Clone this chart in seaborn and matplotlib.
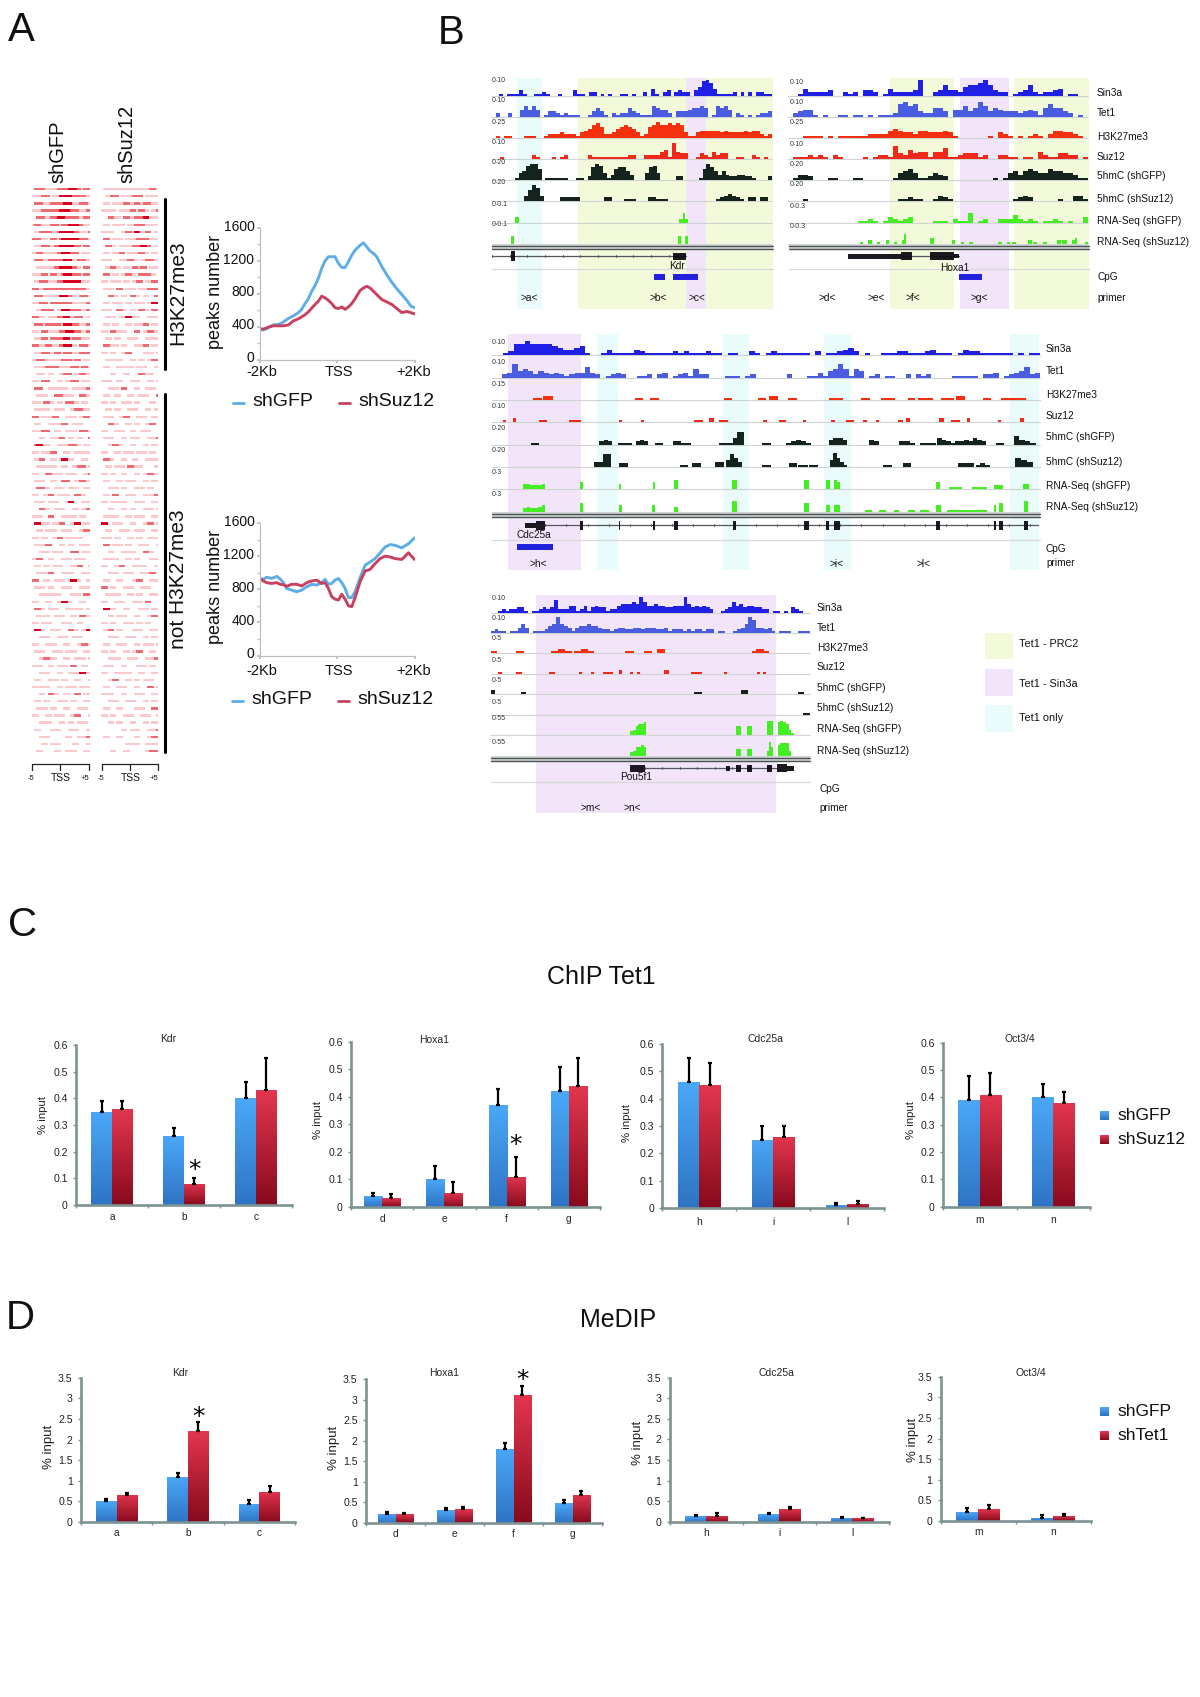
import numpy as np
import pandas as pd
import matplotlib
matplotlib.use("Agg")
import matplotlib.pyplot as plt
from matplotlib.colors import LinearSegmentedColormap
from matplotlib.patches import Rectangle
from matplotlib.ticker import MultipleLocator
from matplotlib.transforms import ScaledTranslation
import seaborn as sns

sns.set_theme(style="white")
plt.rcParams["font.family"] = ["Liberation Sans", "DejaVu Sans"]

W, H = 1200, 1697

# ---------------------------------------------------------------- panel A data
# Heat map rows: a coarse by-eye reading of the dash texture (. none, 1 pale, 2 mid, 3 dark)
HEAT_GFP = """
.222..11.1.222..3322.1122.
11..22...1113333..2.22..11
.22.11..22..2233.11..22.1.
111.2..22.12333.222..1..22
..22..1.222332222.2.11.2..
12.111..22.1.2223.3.2..11.
.1.2.22..11233.3322.1.11.2
22..1...2.1.2332.33..22..1
.11.22.1..2233233.22.1.22.
1.2..11.1112.33.222...1.1.
.22.1..2.2..2233..1.22..11
..1.1.111.22333322.1...2..
11..2...2.1.1233..22.1.22.
.1.22.1..1.22.3333.3..1..1
2.1..22..2.12.2.2.22.2.11.
.22..1.1.1.13322.1...22..1
11.22...2.22..22.1.11.1.2.
..1.2.22...1133.22.2..1.22
2.11...1.1.2223..1.22...1.
.22.1.2..22.1.33.22..11.2.
1...2.11.1..22.33..2.1..22
.11.2...22.2.13.1.22.1.1..
2.1.1.2.1..12.33.1...22.1.
.1..22..1.2.1.22..11.2..2.
1.22..1..1.1.2.2.1.2...11.
.1..1.2..2.1..11.22.1.2..1
..11...1....1.22...1.2..1.
1...22.....1...1.22...1.1.
.22....1.1..11....1..1..22
..1.1.....22..1.1....2.1..
11...2.1...1...22.1...1...
.1..11....1.1....1.22..1.1
2...1.1..2.....1.1...1.22.
.1.....11..1.2....1.1.....
1.1.22....1....1.1...22.1.
...1....1.1.2...1...1....2
.23..1.....1.1..22.1...1..
1...1.1.2.....1....1.1.1.1
.1.2....1...13..1.....1...
..1..1.11....1....1.22...1
1.....2..1.1...1.1.....1.2
.1.1....1....22....1.2.1..
..22.1....1.1...1.1....1.1
1....1.2...1..1....2.1....
.1.1...1.1.....13.....1.1.
...2.1....1.1.....1...1.2.
1.1....2.....1.1.1...1....
.3.1.1...1..2....1.3...1.1
..1...1.1....1.1.....1.2..
1...1....1.2...1..1.1.....
.1.1..2.....1...1....1..1.
...1.1...1.1.....22...1.1.
1.2....1.....1.1...1.1....
.1...1...1.1.....1..2....1
..1.1..2.....1..1.....1.1.
2....1....1.1...13.1....1.
.1.1...1.....1.1.....1.1..
...1.1.1..1......1.1...2.1
1.....1....1.3.1.....1....
.2.1...1.1.....1..1.1...1.
..1..1....1.1....1...2.1..
1...1.1......1.1....1.....
.3.1....1.1.....2.1...1.3.
...1.1.....1.1....1.1.....
1.....1.1.....1.....1.2.1.
.1.1.....1.1...1.1.....1..
...1.2..1.....1....1.1...1
1.1....1...1.1...2....1...
...1.1.....1....1..1.3.1..
.1.....1.1...1.....1.....1
1..1.1.....1...1.1...1.1..
...1...2.1....1....2...1.1
.1...1.....1.1...1.....1..
..1.1...1.....1.....1.1...
1.....1...1.1....1.2.....1
...1..1.....1...1...1.1...
.1......1.1.....1.1.....1.
...1.1.........1....1.1.2.
....1...1.1.......1.....1.
..1.......1....1.1.....1..
"""
HEAT_SUZ = """
.1.1.1..1.1..11..11.1.2.1.
..1.22...1..1.2.2...11..1.
.1...1.1..2.1..2.1.22..1..
1.1.1...11.1.2...2.1...1.2
...2..1...2..1.22.23..1..1
.1...11.1...1..2.2..11.1..
1..1.....1.2.1.3.1..2...1.
.2...1.1...1..1.2.22.1.1..
..2.1...1.1.1.22.23.2...1.
.1...1..2...1..1.2.1...1.1
1.1.....1.1.2.1...1.22..1.
..1.2.1...1...2.1.2...1.1.
.2...1...1.2.1...22.2.1...
1...1.1...1...1.2...1..2.1
.1.1...2...1.1...1.1.2..2.
...2.1...1...2.1...1....2.
.1...1.1...1...1.1...1.3.1
1.1....2.1...1...2.1...22.
..1.1...1..3.1.1.....1.1..
.1...1.....1...1.1.2...1.1
1...2..1.1.....2...1.2.1..
..1...1.....1.1.....1..1.1
.2.1.1...1.....1.1.2...1..
1...1....1.2.......1.1...1
..1..1.1.....1...1...1.2..
.1.....1..1.1...1.1.....1.
....1.....1......2.1.1....
1.1....1.....1.1.....1...1
...1.1...2.....1....1.1...
.1....1.....1....1.1.....2
1...1....1.1...1......1...
..1...1.....1.1.....1...1.
.1.1....1.2.....1.1....1.1
...2.1.....1...1....1.2...
1.....1.1....1....1.1.....
.1.1.....1...1.1.....1.1.2
...1.2.1.....1.....1...1..
1.....1...1.1...1.1...1...
.2.1.....1....1.....1.1..1
..1...1.1...2.1.1.......1.
1...1....1.....1...1.2.1..
.1.....1...1.1.....1...1.1
...1.1...1.....1.1...1....
.1...2.....1.1.....1.1..2.
1...1..1.1.....1.1.....1..
...1.....1...1.....1.1...1
.1.1.1.....1...1.1.....1..
3....1.1.....1.....1.2...1
..1.....1.1....1.1.....1..
1.1...1.....1...1....1.1..
.2...1.1...1.....1.1.....1
...1.....1.1.1.....2.1....
.1.1.1.....1...1......1.1.
1.....1.2.....1.1.1.....1.
...1.1....1.1.....1.1.2...
.1.....1......1.2.....1..1
2...1.....1.1.....1.1.....
..1.1.1.....1...1.....1.1.
1.....1.1.....1.1...2.....
.3..1.....1......1.1...1.1
...1...1.1.....1.....1.2..
1...1.....1.1...1...1.....
.1.2...1......1.1.....1.1.
...1.1.....1.1.....1...1..
.1.....1.1.....1...1.1...1
1...1.....1...1.2.....1...
...1..1.....1.1.....1.1.2.
.1.1.....1......1.1...1...
1.....1..1.1.....1.....1.1
...1.2.....1...1...1.1....
.1.....1.1.....1.....2...1
1..1.....1.....1.1.....1..
...1.1.....1.1.....1...1.1
.1.....1.......1.1.....2..
1...1.....1.1.....1.1....1
...1...1.....1.....1...1..
.........1...1.1.....1.1.2
.1.....1.......1.....1.2..
...........1.1.1....11.1.1
....1.....1.........1.22.1
"""
PROFILE_X_TOP = [780, 790, 800, 810, 820, 835, 850, 865, 880, 895, 905, 915, 925, 935, 945, 955, 965, 975, 985, 995,
                 1005, 1015, 1025, 1035, 1045, 1055, 1065, 1080, 1090, 1100, 1110, 1120, 1130, 1145, 1160, 1175, 1190, 1205, 1220, 1232, 1243]
PROFILE_TOP_GFP = [365, 360, 375, 400, 420, 425, 455, 500, 530, 570, 610, 680, 740, 830, 900, 990, 1110, 1200, 1250, 1250,
                   1250, 1170, 1120, 1120, 1190, 1270, 1330, 1390, 1420, 1370, 1320, 1290, 1250, 1130, 1030, 940, 860, 790, 720, 650, 630]
PROFILE_TOP_SUZ = [375, 370, 385, 400, 410, 410, 410, 420, 470, 495, 520, 545, 580, 625, 670, 710, 770, 750, 720, 680,
                   630, 620, 640, 610, 640, 680, 740, 840, 870, 890, 870, 830, 790, 730, 700, 670, 620, 570, 585, 570, 555]
PROFILE_X_BOT = [780, 790, 800, 815, 830, 840, 850, 860, 875, 890, 905, 920, 935, 950, 965, 975, 985, 995, 1005, 1015, 1025, 1035, 1045, 1055,
                 1065, 1080, 1095, 1110, 1125, 1140, 1155, 1170, 1185, 1205, 1225, 1243]
PROFILE_BOT_GFP = [925, 920, 945, 930, 955, 925, 880, 810, 790, 770, 790, 830, 860, 850, 880, 920, 860, 870, 910, 930, 880, 810, 700, 700,
                   770, 940, 1090, 1130, 1170, 1240, 1310, 1340, 1330, 1300, 1350, 1420]
PROFILE_BOT_SUZ = [930, 900, 880, 870, 880, 860, 855, 835, 860, 860, 840, 880, 900, 910, 870, 880, 810, 710, 680, 670, 740, 680, 600, 590,
                   700, 890, 1020, 1040, 1110, 1170, 1200, 1190, 1170, 1160, 1240, 1160]

# ---------------------------------------------------------------- panel B data
# Each track: (start, end, heights) in panel units, heights are digits 0-9
TRACK_NAMES = ["Sin3a", "Tet1", "H3K27me3", "Suz12", "5hmC (shGFP)", "5hmC (shSuz12)", "RNA-Seq (shGFP)", "RNA-Seq (shSuz12)"]
KDR_RANGES = ["0-10", "0-10", "0-25", "0-10", "0-20", "0-20", "0-0.1", "0-0.1"]
KDR_TRACKS = [
    [(5, 845, "001011131001121001000311022010100110100204102302322035897411112020202211")],
    [(5, 845, "0200200464640133212111001353102122532111654420333455650165640210101223")],
    [(5, 845, "0101100011100122232221345786223567653126797787873113444443433334344212")],
    [(5, 845, "0010000000210001012000002111111111220022224519433001321423300110021010")],
    [(5, 845, "0000001458996011111100110279841367753000478400002200001697535322332210002")],
    [(5, 845, "0000000036973000022222000000220001110002211100000000000012343210220220")],
    [(76, 86, "3"), (566, 578, "2"), (578, 584, "5"), (584, 595, "2")],
    [(62, 71, "4"), (564, 573, "4"), (584, 593, "4")],
]
HOXA_RANGES = ["0-10", "0-10", "0-25", "0-10", "0-20", "0-20", "0-0.3", "0-0.3"]
HOXA_TRACKS = [
    [(10, 910, "001422223002120332014222239002363325667963220123621223401100")],
    [(10, 910, "023441010011011010111278673225530446358635433323431575532010")],
    [(10, 910, "000111101011111122224543324433343100000010321010121024433210")],
    [(10, 910, "011121210210000101221732534414461123331200221101104211332201")],
    [(10, 910, "013320001100011000000145641124320000000001014535654465544311")],
    [(10, 910, "000100000000000000000011211001321000000000000123200000100331")],
    [(10, 910, "000000000000001121013212300001110211501200222421210112101003")],
    [(225, 235, "1"), (250, 260, "2"), (275, 285, "1"), (302, 312, "2"), (327, 335, "1"), (352, 364, "25"), (436, 448, "3"),
     (500, 510, "2"), (528, 538, "1"), (553, 565, "1"), (640, 650, "1"), (665, 675, "1"), (682, 692, "1"), (728, 742, "2"),
     (745, 755, "1"), (775, 785, "1"), (815, 827, "2"), (830, 845, "2"), (862, 875, "23"), (900, 910, "1")],
]
CDC_RANGES = ["0-10", "0-10", "0-15", "0-10", "0-20", "0-20", "0-3", "0-3"]
CDC_TRACKS = [
    [(5, 1540, "0012668666654334510013111132111112121112110110021012111111020112342010011122111231110132211111101011")],
    [(5, 1540, "0023845424323212336320123200112023012315220001110120000002000113145851540120110020212000011111022301234623")],
    [(120, 145, "1"), (148, 175, "2"), (405, 428, "1"), (448, 472, "1"), (655, 678, "1"), (750, 772, "1"), (780, 805, "2"), (835, 860, "1"),
     (950, 988, "1"), (1040, 1065, "1"), (1095, 1135, "1"), (1170, 1190, "1"), (1198, 1240, "1"), (1262, 1300, "1"), (1305, 1330, "2"), (1380, 1402, "1"),
     (1430, 1502, "1")],
    [(36, 46, "1"), (64, 74, "2"), (136, 160, "1"), (220, 255, "1"), (362, 370, "1"), (422, 430, "1"), (570, 595, "1"), (614, 626, "2"), (640, 665, "1"),
     (765, 775, "1"), (808, 830, "1"), (875, 885, "1"), (955, 965, "1"), (998, 1020, "1"), (1045, 1055, "1"), (1082, 1090, "1"), (1142, 1155, "1"), (1165, 1175, "2"),
     (1258, 1272, "2"), (1292, 1315, "1"), (1335, 1345, "2"), (1422, 1430, "1"), (1484, 1496, "2")],
    [(115, 136, "1"), (306, 342, "232"), (358, 398, "1"), (408, 442, "232"), (462, 484, "1"), (512, 535, "2"), (535, 562, "1"), (640, 680, "1"), (680, 712, "477"),
     (762, 786, "1"), (830, 898, "12321"), (948, 1000, "3443"), (1060, 1088, "32"), (1145, 1190, "221"), (1205, 1250, "11"), (1252, 1390, "43212232432"),
     (1417, 1440, "1"), (1467, 1528, "5321")],
    [(291, 315, "3"), (315, 340, "7"), (360, 385, "2"), (532, 555, "1"), (566, 590, "2"), (630, 655, "3"), (660, 705, "4753"), (762, 786, "1"), (838, 860, "2"), (862, 890, "1"),
     (893, 918, "1"), (952, 1000, "48531"), (1100, 1125, "1"), (1155, 1178, "2"), (1310, 1355, "222"), (1360, 1400, "121"), (1470, 1520, "543")],
    [(92, 155, "332223"), (252, 260, "4"), (361, 367, "3"), (455, 463, "4"), (516, 526, "5"), (678, 691, "5"), (879, 893, "5"), (940, 952, "5"), (962, 980, "54"), (1250, 1261, "4"),
     (1285, 1322, "1"), (1350, 1392, "1"), (1410, 1436, "22"), (1492, 1508, "3")],
    [(92, 155, "232234"), (252, 261, "5"), (361, 370, "4"), (454, 463, "4"), (516, 526, "3"), (678, 691, "6"), (879, 892, "5"), (940, 952, "4"), (962, 980, "44"), (1250, 1262, "4"),
     (1050, 1070, "1"), (1090, 1110, "1"), (1130, 1145, "1"), (1170, 1190, "1"), (1205, 1230, "1"), (1280, 1392, "1"), (1410, 1416, "4"), (1426, 1437, "5"), (1494, 1507, "6")],
]
POU_RANGES = ["0-10", "0-10", "0-5", "0-5", "0-5", "0-5", "0-55", "0-55"]
POU_TRACKS = [
    [(50, 820, "00121223310112323722244124134331224555659644544334449534343200123645344332201101032100")],
    [(50, 820, "12110113530111245954313445443221233223323332231222121221220110012359733231011100111")],
    [(50, 65, "1"), (110, 130, "1"), (195, 245, "121"), (252, 300, "121"), (375, 395, "1"), (420, 440, "1"), (450, 470, "2"), (680, 720, "1221")],
    [(68, 76, "1"), (112, 125, "1"), (190, 205, "1"), (262, 270, "1"), (293, 300, "1"), (320, 345, "1"), (360, 367, "2"), (385, 392, "1"), (402, 410, "1"),
     (468, 480, "2"), (532, 560, "1"), (612, 620, "1"), (692, 700, "1"), (706, 714, "1")],
    [(50, 60, "2"), (124, 134, "1"), (540, 560, "1"), (654, 670, "2"), (790, 806, "1")],
    [(804, 820, "1")],
    [(387, 425, "235667"), (642, 654, "5"), (667, 680, "5"), (716, 730, "8"), (742, 775, "78763"), (775, 782, "1")],
    [(387, 425, "235565"), (642, 654, "4"), (667, 680, "4"), (716, 730, "385"), (742, 775, "67773")],
]
BANDS_KDR = [(100, 155, "cyan"), (232, 465, "yellow"), (465, 507, "purple"), (507, 650, "yellow")]
BANDS_HOXA = [(903, 1040, "yellow"), (1052, 1157, "purple"), (1168, 1330, "yellow")]
BANDS_CDC = [(50, 255, "purple"), (300, 358, "cyan"), (652, 725, "cyan"), (935, 1012, "cyan"), (1457, 1537, "cyan")]
BANDS_POU = [(160, 738, "purple")]
CPG_KDR = [(395, 418), (437, 490)]
CPG_HOXA = [(1050, 1100)]
CPG_CDC = [(76, 175)]
PRIMERS_KDR = [(127, ">a<"), (405, ">b<"), (487, ">c<")]
PRIMERS_HOXA = [(768, ">d<"), (872, ">e<"), (952, ">f<"), (1094, ">g<")]
PRIMERS_CDC = [(135, ">h<"), (970, ">i<"), (1215, ">l<")]
PRIMERS_POU = [(292, ">m<"), (392, ">n<")]
GENE_KDR = dict(line=(47, 465), tick_step=38, exons=[(88, 97, 5), (437, 465, 3.5)])
GENE_HOXA = dict(line=(925, 1050), tick_step=0, exons=[(812, 925, 2.5), (925, 950, 4), (988, 1040, 4), (1040, 1050, 2)])
GENE_CDC = dict(line=(155, 1535), tick_step=59, exons=[(97, 130, 2.5), (130, 155, 4.5), (252, 259, 4.5), (361, 365, 4.5), (457, 461, 4.5), (516, 526, 4.5), (679, 689, 4.5),
                                                       (878, 892, 4.5), (941, 948, 4.5), (963, 980, 4.5), (1250, 1261, 4.5), (1412, 1418, 4.5), (1426, 1436, 4.5), (1494, 1505, 4.5)])
GENE_POU = dict(line=(422, 740), tick_step=42, exons=[(385, 422, 3.5), (617, 627, 2.5), (642, 653, 3.5), (667, 680, 3.5), (716, 729, 3.5), (740, 765, 4), (765, 782, 2.5)])

# ---------------------------------------------------------------- panels C, D data
CHIP_KDR = dict(primers=["a", "b", "c"], gfp=[.35, .26, .40], red=[.36, .08, .43], gfp_top=[.39, .29, .46], red_top=[.39, .10, .55])
CHIP_HOXA = dict(primers=["d", "e", "f", "g"], gfp=[.04, .10, .37, .42], red=[.03, .05, .11, .44], gfp_top=[.05, .15, .43, .51], red_top=[.045, .09, .18, .54])
CHIP_CDC = dict(primers=["h", "i", "l"], gfp=[.46, .25, .01], red=[.45, .26, .015], gfp_top=[.55, .30, .02], red_top=[.53, .30, .025])
CHIP_OCT = dict(primers=["m", "n"], gfp=[.39, .40], red=[.41, .38], gfp_top=[.48, .45], red_top=[.49, .42])
MEDIP_KDR = dict(primers=["a", "b", "c"], gfp=[.50, 1.10, .44], red=[.66, 2.20, .73], gfp_top=[.56, 1.20, .53], red_top=[.70, 2.43, .87])
MEDIP_HOXA = dict(primers=["d", "e", "f", "g"], gfp=[.23, .31, 1.80, .48], red=[.21, .33, 3.10, .69], gfp_top=[.26, .37, 1.95, .55], red_top=[.25, .39, 3.33, .78])
MEDIP_CDC = dict(primers=["h", "i", "l"], gfp=[.13, .18, .10], red=[.15, .32, .08], gfp_top=[.17, .21, .11], red_top=[.20, .36, .10])
MEDIP_OCT = dict(primers=["m", "n"], gfp=[.21, .08], red=[.28, .11], gfp_top=[.31, .14], red_top=[.38, .17])

BAND_COL = dict(cyan="#e9fbfb", yellow="#f3fada", purple="#f2e5fa")
TRACK_COL = ["#1f1fe6", "#4a5ce0", "#f5300f", "#ef2a1a", "#14231c", "#14231c", "#44ee22", "#44ee22"]

# ---------------------------------------------------------------- helpers
fig = plt.figure(figsize=(W / 100, H / 100), dpi=100, facecolor="white")


def ax_px(x0, y0, x1, y1):
    ax = fig.add_axes([x0 / W, 1 - y1 / H, (x1 - x0) / W, (y1 - y0) / H])
    ax.patch.set_alpha(0)
    return ax


bg = ax_px(0, 0, W, H)
bg.set_xlim(0, W)
bg.set_ylim(H, 0)
bg.axis("off")


def label(x, y, s, size, **kw):
    kw.setdefault("ha", "left")
    kw.setdefault("va", "center")
    kw.setdefault("color", "#111111")
    return bg.text(x, y, s, fontsize=size, **kw)


for x, y, s in [(8, 30, "A"), (438, 33, "B"), (8, 925, "C"), (6, 1318, "D")]:
    label(x, y, s, 29)
label(601, 977, "ChIP Tet1", 18, ha="center")
label(618, 1320, "MeDIP", 18, ha="center")


# ---------------------------------------------------------------- panel A
heat_cmap = LinearSegmentedColormap.from_list("heat", ["#ffffff", "#fbc9cc", "#ee6a70", "#d8001f"])


def heat_panel(text, x0, x1):
    rows = [[0 if c == "." else int(c) for c in r] for r in text.split()]
    width = max(len(r) for r in rows)
    rows = np.array([r + [0] * (width - len(r)) for r in rows])
    # each typed mark is a horizontal dash a few cells long
    long_rows = np.zeros_like(rows)
    for shift in range(3):
        long_rows[:, shift:] = np.maximum(long_rows[:, shift:], rows[:, :width - shift])
    thick = np.zeros((3 * len(long_rows), width), dtype=int)
    thick[::3] = long_rows
    ax = ax_px(x0, 188, x1, 757)
    sns.heatmap(thick, ax=ax, cmap=heat_cmap, vmin=0, vmax=3, cbar=False, xticklabels=False, yticklabels=False)


heat_panel(HEAT_GFP, 32, 90)
heat_panel(HEAT_SUZ, 101, 158)
label(58, 183, "shGFP", 14.5, rotation=90, ha="center", va="bottom")
label(127, 183, "shSuz12", 14.5, rotation=90, ha="center", va="bottom")
label(178, 293, "H3K27me3", 15, rotation=90, ha="center")
label(178, 579, "not H3K27me3", 15, rotation=90, ha="center")
bg.plot([165, 165], [199, 369], color="black", lw=2.2)
bg.plot([165, 165], [394, 752], color="black", lw=2.2)
for x0, xm, x1 in [(32, 60.3, 88.7), (101.7, 130, 158.3)]:
    bg.plot([x0, x0, x1, x1], [770, 764, 764, 770], color="#222222", lw=0.9)
    bg.plot([xm, xm], [764, 770], color="#222222", lw=0.9)
    label(x0 - 0.5, 778, "-5", 5.5, ha="center")
    label(xm + 1, 778, "TSS", 7.5, ha="center")
    label(x1 - 4, 778, "+5", 5.5, ha="center")


def profile(x_vals, gfp, suz, y0, y1, xlab_y, leg_y, leg_x):
    ax = ax_px(260, y1, 414.5, y0)
    df = pd.DataFrame({"pos": list(x_vals) * 2, "peaks": list(gfp) + list(suz),
                       "condition": ["shGFP"] * len(gfp) + ["shSuz12"] * len(suz)})
    sns.lineplot(data=df, x="pos", y="peaks", hue="condition", palette={"shGFP": "#5dade6", "shSuz12": "#c8415f"},
                 lw=2.1, legend=False, errorbar=None, ax=ax)
    ax.set_xlim(780, 1243)
    ax.set_ylim(0, 1600)
    sns.despine(ax=ax)
    for s in ("left", "bottom"):
        ax.spines[s].set_color("#b9c1c6")
        ax.spines[s].set_linewidth(0.9)
    ax.set_yticks([0, 400, 800, 1200, 1600])
    ax.yaxis.set_minor_locator(MultipleLocator(200))
    ax.tick_params(axis="y", which="both", left=True, length=2, color="#b9c1c6", labelsize=10, pad=2, labelcolor="#111111")
    for lbl in ax.get_yticklabels():
        lbl.set_transform(lbl.get_transform() + ScaledTranslation(0, 2 / 72, fig.dpi_scale_trans))
    ax.set_xticks([780, 1011, 1243])
    ax.set_xticklabels([])
    ax.tick_params(axis="x", bottom=True, length=2, color="#b9c1c6")
    ax.set_xlabel("")
    ax.set_ylabel("")
    for x, s in [(262, "-2Kb"), (339, "TSS"), (414, "+2Kb")]:
        label(x, xlab_y, s, 10.5, ha="center")
    label(216, (y0 + y1) / 2 - 2, "peaks number", 13, rotation=90, ha="center")
    bg.plot([leg_x[0], leg_x[0] + 11], [leg_y, leg_y], color="#5dade6", lw=2)
    label(leg_x[0] + 19, leg_y - 1, "shGFP", 14)
    bg.plot([leg_x[1], leg_x[1] + 11], [leg_y, leg_y], color="#c8415f", lw=2)
    label(leg_x[1] + 19, leg_y - 1, "shSuz12", 14)


profile(PROFILE_X_TOP, PROFILE_TOP_GFP, PROFILE_TOP_SUZ, 359.5, 228, 372, 403, (233, 339))
profile(PROFILE_X_BOT, PROFILE_BOT_GFP, PROFILE_BOT_SUZ, 655.5, 523, 671, 701, (232, 338))


# ---------------------------------------------------------------- panel B
def draw_tracks(fx, zx0, zx1, tracks, bases, ranges, range_y, range_x):
    for k, (segs, base) in enumerate(zip(tracks, bases)):
        bg.plot([fx(zx0), fx(zx1)], [base, base], color="#cfd3d3", lw=0.8, zorder=1)
        ax = ax_px(fx(zx0), base - 18, fx(zx1), base)
        ax.set_xlim(zx0, zx1)
        ax.set_ylim(0, 10)
        ax.axis("off")
        for a, b, hs in segs:
            edges = np.linspace(a, b, len(hs) + 1)
            ax.stairs([int(h) for h in hs], edges, fill=True, color=TRACK_COL[k], lw=0)
        label(range_x, range_y[k], ranges[k], 5, color="#333333")


def draw_frame(fx, zx0, zx1, y_top, y_bot, bands, dbl, gene, gene_y, gene_name, gray_y, cpg, cpg_y, primers, primer_y):
    for a, b, c in bands:
        bg.add_patch(Rectangle((fx(a), y_top), fx(b) - fx(a), y_bot - y_top, color=BAND_COL[c], lw=0, zorder=0))
    bg.add_patch(Rectangle((fx(zx0), dbl), fx(zx1) - fx(zx0), 5, color="#d4d6d6", lw=0, zorder=1))
    bg.plot([fx(zx0), fx(zx1)], [dbl + 0.8, dbl + 0.8], color="#4a5252", lw=1, zorder=2)
    bg.plot([fx(zx0), fx(zx1)], [dbl + 4, dbl + 4], color="#4a5252", lw=1, zorder=2)
    bg.plot([fx(zx0), fx(zx1)], [gray_y, gray_y], color="#d8dada", lw=0.9, zorder=1)
    lx0, lx1 = gene["line"]
    bg.plot([fx(lx0), fx(lx1)], [gene_y, gene_y], color="#55555f", lw=0.9, zorder=2)
    if gene["tick_step"]:
        for t in np.arange(lx0, lx1, gene["tick_step"]):
            bg.plot([fx(t), fx(t)], [gene_y - 1.3, gene_y + 1.3], color="#55555f", lw=0.7, zorder=2)
    for a, b, h in gene["exons"]:
        bg.add_patch(Rectangle((fx(a), gene_y - h), fx(b) - fx(a), 2 * h, color="#100c14", lw=0, zorder=3, alpha=0.95))
    label(gene_name[0], gene_name[1], gene_name[2], 7.3, ha="center", zorder=5)
    for a, b in cpg:
        bg.add_patch(Rectangle((fx(a), cpg_y - 3.3), fx(b) - fx(a), 6.6, color="#2222dd", lw=0, zorder=3))
    for x, s in primers:
        label(fx(x), primer_y, s, 7.3, ha="center", zorder=5)


fx_top = lambda x: 470 + x / 2.148
fx_kdr = lambda x: 490 + x / 3
fx_hox = lambda x: 785 + x / 3
fx_cdc = lambda x: 490 + x / 2.8
fx_pou = lambda x: 470 + x / 2.412
top_base = [95.7, 116.7, 137.7, 158.7, 180, 201, 222.5, 243.5]

draw_frame(fx_top, 47, 650, 78, 309, BANDS_KDR, 245, GENE_KDR, 256, (677, 266, "Kdr"), 269, CPG_KDR, 277, PRIMERS_KDR, 298)
draw_frame(fx_top, 685, 1330, 78, 309, BANDS_HOXA, 245, GENE_HOXA, 256, (955, 268, "Hoxa1"), 269, CPG_HOXA, 277, PRIMERS_HOXA, 298)
draw_tracks(fx_kdr, 5, 845, KDR_TRACKS, top_base, KDR_RANGES, [81, 100, 122, 143, 163, 183, 204, 225], 492)
draw_tracks(fx_hox, 10, 910, HOXA_TRACKS, top_base, HOXA_RANGES, [83, 103, 123, 145, 165, 185, 206, 227], 790)
for name, y in zip(TRACK_NAMES + ["CpG", "primer"], [93, 113, 137, 157, 176, 199, 221, 242, 277, 298]):
    label(1097, y, name, 7.3)

draw_frame(fx_cdc, 5, 1540, 334, 570, BANDS_CDC, 513, GENE_CDC, 525, (534, 535.5, "Cdc25a"), 540, CPG_CDC, 547, PRIMERS_CDC, 564)
draw_tracks(fx_cdc, 5, 1540, CDC_TRACKS, [355, 378, 400, 422, 445, 467, 489, 512], CDC_RANGES, [343, 363, 385, 407, 429, 451, 473, 494], 492)
for name, y in zip(TRACK_NAMES + ["CpG", "primer"], [349.5, 371, 395, 416, 437, 462, 486, 507, 548.6, 563]):
    label(1046, y, name, 7.3)

draw_frame(fx_pou, 50, 820, 595, 813, BANDS_POU, 757, GENE_POU, 768, (636, 777, "Pou5f1"), 782, [], 789, PRIMERS_POU, 808)
draw_tracks(fx_pou, 50, 820, POU_TRACKS, [612.7, 633, 653, 674, 694, 715, 735, 756], POU_RANGES, [599, 619, 639, 661, 680, 702, 719, 742], 492)
for name, x, y in zip(TRACK_NAMES + ["CpG", "primer"], [817] * 8 + [819, 819], [608, 628, 648, 667, 688, 708, 729, 751, 789, 808]):
    label(x, y, name, 7.3)

for (y0, y1, col, s, ty) in [(633, 659, "yellow", "Tet1 - PRC2", 644), (669, 696, "purple", "Tet1 - Sin3a", 684), (705, 732, "cyan", "Tet1 only", 718)]:
    bg.add_patch(Rectangle((985, y0), 28, y1 - y0, color=BAND_COL[col], lw=0))
    label(1019, ty, s, 7.8)


# ---------------------------------------------------------------- panels C, D
def gradient(ax, patch, top, bottom):
    cmap = LinearSegmentedColormap.from_list("g", [top, bottom])
    xl, yl = ax.get_xlim(), ax.get_ylim()
    x, y, w, h = patch.get_x(), patch.get_y(), patch.get_width(), patch.get_height()
    im = ax.imshow(np.linspace(0, 1, 64)[:, None], cmap=cmap, extent=(x, x + w, y, y + h), origin="upper", aspect="auto", zorder=2)
    im.set_clip_path(patch)
    ax.set_xlim(xl)
    ax.set_ylim(yl)


BLUE = ("#4aa8f7", "#2f74c4")
RED = ("#e2364e", "#880a1c")


def bars(d, rect, title, ymax, yticks, ylabel_size, title_xy, xlab_y, ylab_xy, stars=()):
    x0, y0, x1, y1 = rect
    ax = ax_px(x0, y1, x1, y0)
    df = pd.DataFrame({"primer": d["primers"] * 2, "value": d["gfp"] + d["red"],
                       "condition": ["gfp"] * len(d["gfp"]) + ["red"] * len(d["red"])})
    sns.barplot(data=df, x="primer", y="value", hue="condition", palette={"gfp": BLUE[0], "red": RED[0]}, width=0.58,
                gap=0, errorbar=None, legend=False, ax=ax)
    n = len(d["primers"])
    ax.set_xlim(-0.5, n - 0.5)
    ax.set_ylim(0, ymax)
    for cont, cols, tops in zip(ax.containers, (BLUE, RED), (d["gfp_top"], d["red_top"])):
        for p, top in zip(cont.patches, tops):
            gradient(ax, p, *cols)
            cx = p.get_x() + p.get_width() / 2
            ax.errorbar(cx, p.get_height(), yerr=[[0], [top - p.get_height()]], color="black", lw=1.6, capsize=1.4, capthick=1.6, zorder=4)
    sns.despine(ax=ax)
    for s in ("left", "bottom"):
        ax.spines[s].set_color("#7d9292")
        ax.spines[s].set_linewidth(1.9)
    ax.set_xlabel("")
    ax.set_ylabel("")
    ax.set_xticks(np.arange(n + 1) - 0.5)
    ax.set_xticklabels([])
    ax.tick_params(axis="x", bottom=True, length=2, width=1, color="#7d9292")
    ax.set_yticks(yticks)
    ax.set_yticklabels([f"{t:g}" for t in yticks])
    ax.tick_params(axis="y", left=True, length=2, width=1, color="#7d9292", labelsize=7.6, pad=4, labelcolor="#222222")
    for i, s in enumerate(d["primers"]):
        sx = x0 + (i + 0.5) * (x1 - x0) / n
        label(sx, xlab_y, s, 7.3, ha="center", color="#222222")
    label(title_xy[0], title_xy[1], title, 7.5, ha="center", color="#222222")
    label(ylab_xy[0], ylab_xy[1], "% input", ylabel_size, rotation=90, ha="center", color="#222222")
    for (i, yv) in stars:
        p = ax.containers[1].patches[i]
        ax.text(p.get_x() + p.get_width() / 2, yv, "*", fontsize=18, ha="center", va="center", color="black", clip_on=False, family="DejaVu Sans")


Y6 = [0, .1, .2, .3, .4, .5, .6]
Y35 = [0, .5, 1, 1.5, 2, 2.5, 3, 3.5]
bars(CHIP_KDR, (76, 1205, 292, 1045), "Kdr", .6, Y6, 8.2, (168, 1039), 1217, (43.5, 1115), stars=[(1, .13)])
bars(CHIP_HOXA, (351, 1206.7, 600, 1042), "Hoxa1", .6, Y6, 8.2, (434, 1040), 1219, (318, 1120), stars=[(2, .225)])
bars(CHIP_CDC, (662.4, 1208, 884, 1044), "Cdc25a", .6, Y6, 8.2, (765, 1039), 1222, (627, 1123))
bars(CHIP_OCT, (943, 1206.7, 1090, 1042.7), "Oct3/4", .6, Y6, 8.2, (1020, 1039), 1220, (911, 1120))
bars(MEDIP_KDR, (81, 1522, 295, 1377.7), "Kdr", 3.5, Y35, 9.5, (180, 1373), 1533, (49, 1447), stars=[(1, 2.55)])
bars(MEDIP_HOXA, (366, 1523, 602, 1379), "Hoxa1", 3.5, Y35, 9.5, (444, 1373), 1534, (334, 1448), stars=[(2, 3.48)])
bars(MEDIP_CDC, (669.6, 1521.7, 889, 1377.7), "Cdc25a", 3.5, Y35, 9.5, (776, 1373), 1533, (638, 1443))
bars(MEDIP_OCT, (940.6, 1521, 1090.6, 1376.7), "Oct3/4", 3.5, Y35, 9.5, (1031, 1373), 1532, (913, 1440))


def swatch(x0, y0, x1, y1, cols):
    ax = ax_px(x0, y0, x1, y1)
    ax.imshow(np.linspace(0, 1, 16)[:, None], cmap=LinearSegmentedColormap.from_list("s", cols), aspect="auto")
    ax.axis("off")


for sy, sc, s, ty in [(1111, BLUE, "shGFP", 1115.7), (1135, RED, "shSuz12", 1139.5)]:
    swatch(1100, sy, 1109, sy + 9, sc)
    label(1117, ty, s, 12.5)
for sy, sc, s, ty in [(1407, BLUE, "shGFP", 1412), (1431, RED, "shTet1", 1436)]:
    swatch(1100, sy, 1109, sy + 9, sc)
    label(1117, ty, s, 12.5)

fig.savefig("out.png", dpi=100)
